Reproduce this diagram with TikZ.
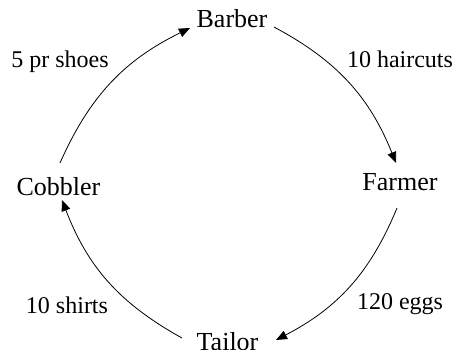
\documentclass[tikz,border=0pt]{standalone}
\usepackage{fontspec}
\setmainfont{Liberation Serif}
\usetikzlibrary{arrows.meta}
\begin{document}
\begin{tikzpicture}[x=1pt,y=1pt,
  lbl/.style={anchor=base,inner sep=0pt,font=\fontsize{24}{28}\selectfont},
  who/.style={anchor=base,inner sep=0pt,font=\fontsize{26}{30}\selectfont},
  flow/.style={line width=0.8pt,-{Triangle[length=11pt,width=9pt]},bend left=20}]
\useasboundingbox (0,0) rectangle (458,349);
\node[who] (barber) at (232,321) {Barber};
\node[who] (farmer) at (400,159) {Farmer};
\node[who] (cobbler) at (58.5,154) {Cobbler};
\node[who] (tailor) at (227.5,-1) {Tailor};
\node[lbl] (shoes) at (60,281) {5 pr shoes};
\node[lbl] (haircuts) at (400,281) {10 haircuts};
\node[lbl] (shirts) at (67,36) {10 shirts};
\node[lbl] (eggs) at (400,40) {120 eggs};
\coordinate (a1s) at (60,186);
\coordinate (a1e) at (190,321);
\coordinate (a2s) at (274,322);
\coordinate (a2e) at (396,186);
\coordinate (a3s) at (397,141);
\coordinate (a3e) at (276,9);
\coordinate (a4s) at (182,11);
\coordinate (a4e) at (62,149);
\draw[flow] (a1s) to (a1e);
\draw[flow] (a2s) to (a2e);
\draw[flow] (a3s) to (a3e);
\draw[flow] (a4s) to (a4e);
\end{tikzpicture}
\end{document}
